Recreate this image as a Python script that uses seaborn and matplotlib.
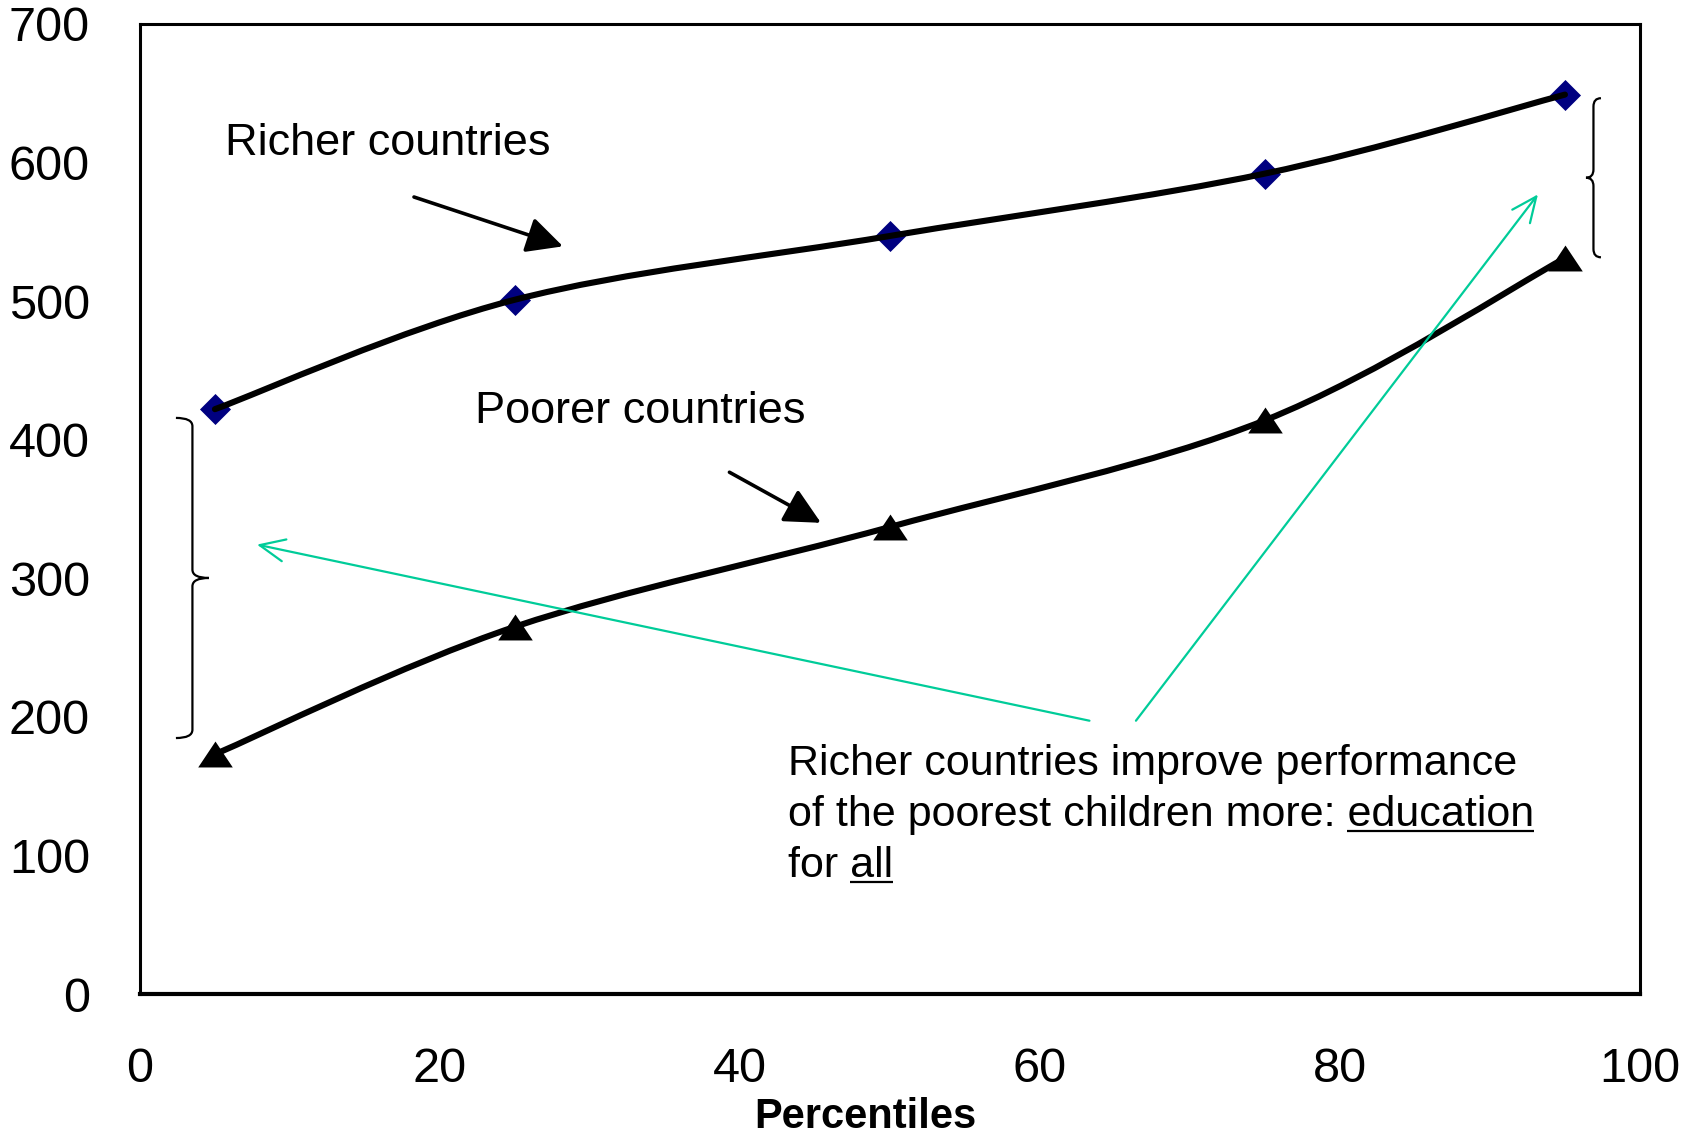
import numpy as np
import pandas as pd
import matplotlib
matplotlib.use("Agg")
import matplotlib.pyplot as plt
from matplotlib.path import Path
from matplotlib.patches import PathPatch
import seaborn as sns

# Scores by percentile of the performance distribution
percentiles = [5, 25, 50, 75, 95]
richer_scores = [422, 501, 547, 592, 649]
poorer_scores = [173, 265, 337, 414, 531]

x_ticks = [0, 20, 40, 60, 80, 100]
y_ticks = [0, 100, 200, 300, 400, 500, 600, 700]

sns.set_theme(style="white")
plt.rcParams['font.family'] = ['Liberation Sans', 'DejaVu Sans']

fig = plt.figure(figsize=(16.94, 11.39), dpi=100)
ax = fig.add_axes([0.0826, 0.1273, 0.8855, 0.8517])

df = pd.DataFrame({
    "percentile": percentiles * 2,
    "score": richer_scores + poorer_scores,
    "group": ["Richer countries"] * 5 + ["Poorer countries"] * 5,
})


def smooth_path(xs, ys):
    """Bezier path through the points (Catmull-Rom style smoothing)."""
    pts = np.column_stack([xs, ys]).astype(float)
    n = len(pts)
    verts = [pts[0]]
    codes = [Path.MOVETO]
    for i in range(n - 1):
        p_prev = pts[max(i - 1, 0)]
        p0, p1 = pts[i], pts[i + 1]
        p_next = pts[min(i + 2, n - 1)]
        verts += [p0 + (p1 - p_prev) / 6, p1 - (p_next - p0) / 6, p1]
        codes += [Path.CURVE4] * 3
    return Path(verts, codes)


# markers
rich = df[df.group == "Richer countries"]
poor = df[df.group == "Poorer countries"]
sns.scatterplot(data=rich, x="percentile", y="score", marker="D", s=250,
                color="#000080", edgecolor="#000080", linewidth=0, ax=ax, zorder=2,
                legend=False)
tri = [(0, 0.75), (-1, -0.75), (1, -0.75), (0, 0.75)]
sns.scatterplot(data=poor, x="percentile", y="score", marker=tri, s=620,
                color="black", edgecolor="black", linewidth=0, ax=ax, zorder=2,
                legend=False)

# smoothed connecting lines
for sub in (rich, poor):
    ax.add_patch(PathPatch(smooth_path(sub.percentile.values, sub.score.values),
                           fill=False, lw=4.4, edgecolor="black",
                           capstyle="round", joinstyle="round", zorder=3))

ax.set_xlim(0, 100)
ax.set_ylim(0, 700)
ax.set_xticks(x_ticks)
ax.set_yticks(y_ticks)
ax.tick_params(axis="both", direction="out", length=13, width=2, color="black",
               labelsize=35, pad=23, labelcolor="black")
ax.tick_params(axis="x", pad=25)
for side, sp in ax.spines.items():
    sp.set_visible(True)
    sp.set_color("black")
    sp.set_linewidth(2.2)
ax.spines["bottom"].set_linewidth(3)
ax.set_xlabel("")
ax.set_ylabel("")
ax.grid(False)
fig.text(0.5109, 0.0195, "Percentiles", fontsize=30, fontweight="bold",
         ha="center", va="center", color="black")

# series labels with arrows
ax.text(5.65, 614, "Richer countries", fontsize=32.5, va="center", ha="left", color="black")
ax.text(22.36, 420, "Poorer countries", fontsize=32.5, va="center", ha="left", color="black")
black_head = dict(arrowstyle="-|>,head_length=1.1,head_width=0.55", lw=2.6,
                  color="black", mutation_scale=20, shrinkA=0, shrinkB=0)
ax.annotate("", xy=(28.2, 539.5), xytext=(18.27, 575.1), arrowprops=black_head)
ax.annotate("", xy=(45.4, 340.0), xytext=(39.3, 376.5), arrowprops=black_head)

# teal arrows pointing at the two gaps
teal = "#00CC99"
teal_head = dict(arrowstyle="->,head_length=0.9,head_width=0.4", lw=1.6,
                 color=teal, mutation_scale=20, shrinkA=0, shrinkB=0)
ax.annotate("", xy=(7.8, 324.3), xytext=(63.3, 197.2), arrowprops=teal_head)
ax.annotate("", xy=(93.2, 577.0), xytext=(66.4, 197.2), arrowprops=teal_head)


def brace(x_line, y_top, y_bot, y_mid, arm, r):
    """Curly brace; arm > 0 opens to the left (tip points right)."""
    tip = x_line + arm
    end = x_line - arm
    v = [(end, y_top), (x_line, y_top), (x_line, y_top - r),
         (x_line, y_mid + r), (x_line, y_mid), (tip, y_mid),
         (tip, y_mid), (x_line, y_mid), (x_line, y_mid - r),
         (x_line, y_bot + r), (x_line, y_bot), (end, y_bot)]
    c = [Path.MOVETO, Path.CURVE3, Path.CURVE3,
         Path.LINETO, Path.CURVE3, Path.CURVE3,
         Path.MOVETO, Path.CURVE3, Path.CURVE3,
         Path.LINETO, Path.CURVE3, Path.CURVE3]
    ax.add_patch(PathPatch(Path(v, c), fill=False, lw=1.6, edgecolor="black",
                           zorder=2, clip_on=False))


brace(3.5, 415.7, 184.7, 300.2, 1.1, 6.0)
brace(96.9, 646.4, 531.6, 589.0, -0.5, 6.0)

# conclusion text with underlined words
x0 = 43.2
text_size = 31
lines = ["Richer countries improve performance",
         "of the poorest children more: education",
         "for all"]
baselines = [158.0, 121.2, 84.4]
underlined = {1: "education", 2: "all"}
text_objs = []
for ln, yb in zip(lines, baselines):
    text_objs.append(ax.text(x0, yb, ln, fontsize=text_size, va="baseline",
                             ha="left", color="black"))

fig.canvas.draw()
renderer = fig.canvas.get_renderer()


def width_px(s):
    tmp = ax.text(0, 0, s, fontsize=text_size, va="baseline", ha="left")
    w = tmp.get_window_extent(renderer).width
    tmp.remove()
    return w


inv = ax.transData.inverted()
for idx, word in underlined.items():
    t = text_objs[idx]
    bb = t.get_window_extent(renderer)
    x_end = bb.x1
    x_start = x_end - width_px(word)
    base_px = ax.transData.transform((x0, baselines[idx]))[1]
    y_px = base_px - 4.5
    (dx0, dy), (dx1, _) = inv.transform([(x_start, y_px), (x_end, y_px)])
    ax.plot([dx0, dx1], [dy, dy], color="black", lw=1.6, solid_capstyle="butt",
            zorder=4)

fig.savefig("out.png", dpi=100)
